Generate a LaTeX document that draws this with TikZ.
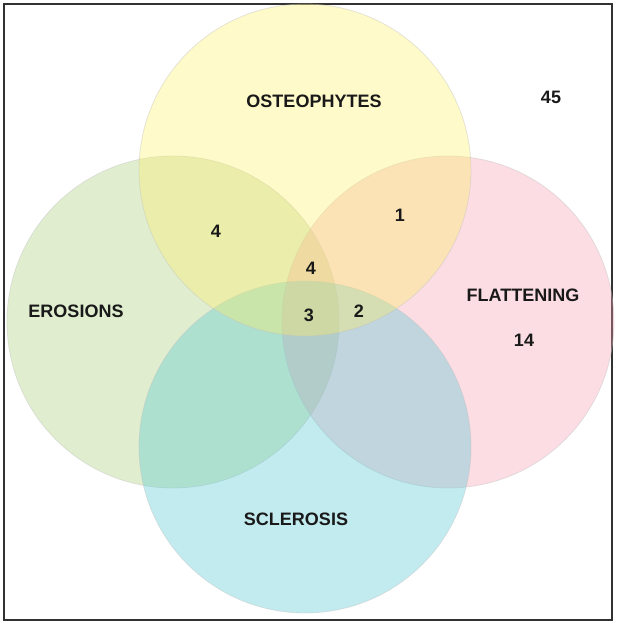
\documentclass[tikz,border=0pt]{standalone}
\usepackage{fontspec}
\setmainfont{Liberation Sans}
\usepackage{xcolor}
\usepackage{tikz}
\usetikzlibrary{positioning}

\definecolor{ostyellow}{RGB}{255,240,100}
\definecolor{erogreen}{RGB}{166,206,118}
\definecolor{flapink}{RGB}{244,158,175}
\definecolor{sclcyan}{RGB}{81,198,212}
\definecolor{framegray}{RGB}{50,50,50}

\tikzset{
    venn/.style={circle, minimum size=332pt, inner sep=0pt, fill opacity=0.35,
        draw=black!25, draw opacity=0.4, line width=0.8pt},
    setname/.style={font=\fontsize{18}{21}\selectfont\bfseries, text=black!90},
    count/.style={font=\fontsize{18}{21}\selectfont\bfseries, text=black!90}
}

\begin{document}
\begin{tikzpicture}[x=1pt, y=-1pt]
    \useasboundingbox (0,0) rectangle (617,624);

    % Frame
    \draw[framegray, line width=2pt] (4,4) rectangle (612,620);

    % Sets
    \node[venn, fill=erogreen] (ero) at (173,322) {};
    \node[venn, fill=flapink] (fla) at (448,322) {};
    \node[venn, fill=sclcyan] (scl) at (305,447) {};
    \node[venn, fill=ostyellow] (ost) at (305,170) {};

    % Set names
    \node[setname] (ostname) at (314,101) {OSTEOPHYTES};
    \node[setname] (eroname) at (76,311) {EROSIONS};
    \node[setname] (flaname) at (523,295) {FLATTENING};
    \node[setname] (sclname) at (296,519) {SCLEROSIS};

    % Counts
    \node[count] (none) at (551,97) {45};
    \node[count] (ostfla) at (400,215) {1};
    \node[count] (ostero) at (216,231) {4};
    \node[count] (osterofla) at (311,268) {4};
    \node[count] (all) at (309,315) {3};
    \node[count] (ostflascl) at (359,311) {2};
    \node[count] (flaonly) at (524,340) {14};
\end{tikzpicture}
\end{document}
